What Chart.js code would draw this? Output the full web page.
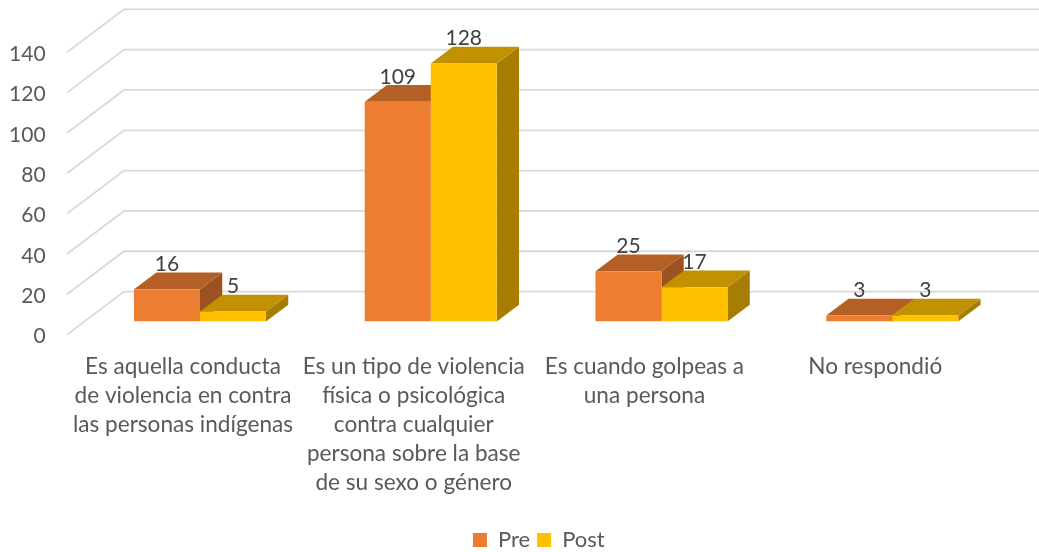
<!DOCTYPE html>
<html><head><meta charset="utf-8">
<style>html,body{margin:0;padding:0;background:#fff}canvas{display:block}</style>
<script src="https://cdn.jsdelivr.net/npm/chart.js@4/dist/chart.umd.min.js"></script>
</head><body><canvas id="c" width="1039" height="552"></canvas>
<script>
const categories = [
  ["Es aquella conducta","de violencia en contra","las personas indígenas"],
  ["Es un tipo de violencia","física o psicológica","contra cualquier","persona sobre la base","de su sexo o género"],
  ["Es cuando golpeas a","una persona"],
  ["No respondió"]
];
const pre = [16,109,25,3];
const post = [5,128,17,3];
const FONT = "Lato";
const shade = {
  "#ed7d31": {top:"#b45f25", side:"#9c5220"},
  "#ffc000": {top:"#c19100", side:"#a67d00"}
};
const WALL = {dx:57, dy:-43, frontDrop:13, frontX:67};
const BAR = {dx:22.3, dy:-16.8};
const LEGEND_SHIFT = {dx:35, dy:9};

function poly(ctx, pts, fill){
  ctx.fillStyle = fill; ctx.beginPath();
  pts.forEach((p,i)=> i?ctx.lineTo(p[0],p[1]):ctx.moveTo(p[0],p[1]));
  ctx.closePath(); ctx.fill();
}
const depth3d = {
  id:"depth3d",
  afterLayout(chart){
    const l = chart.legend;
    l.left += LEGEND_SHIFT.dx; l.right += LEGEND_SHIFT.dx;
    l.top += LEGEND_SHIFT.dy; l.bottom += LEGEND_SHIFT.dy;
  },
  beforeDatasetsDraw(chart){
    const ctx = chart.ctx, ys = chart.scales.y;
    ctx.save();
    ctx.strokeStyle = "#d9d9d9"; ctx.lineWidth = 1.8;
    ys.ticks.forEach(t=>{
      const y = ys.getPixelForValue(t.value) + WALL.frontDrop;
      ctx.beginPath();
      ctx.moveTo(WALL.frontX, y);
      ctx.lineTo(WALL.frontX + WALL.dx, y + WALL.dy);
      ctx.lineTo(chart.width, y + WALL.dy);
      ctx.stroke();
    });
    chart.data.datasets.forEach((ds,di)=>{
      const c = shade[ds.backgroundColor];
      chart.getDatasetMeta(di).data.forEach(b=>{
        const l=b.x-b.width/2, r=b.x+b.width/2, t=b.y, bt=b.base;
        poly(ctx,[[r,t],[r+BAR.dx,t+BAR.dy],[r+BAR.dx,bt+BAR.dy],[r,bt]],c.side);
        poly(ctx,[[l,t],[r,t],[r+BAR.dx,t+BAR.dy],[l+BAR.dx,t+BAR.dy]],c.top);
      });
    });
    ctx.restore();
  },
  afterDatasetsDraw(chart){
    const ctx = chart.ctx;
    ctx.save();
    ctx.font = "21px "+FONT; ctx.fillStyle="#404040";
    ctx.textAlign="center"; ctx.textBaseline="middle";
    chart.data.datasets.forEach((ds,di)=>{
      chart.getDatasetMeta(di).data.forEach((b,i)=>{
        ctx.fillText(String(ds.data[i]), b.x, b.y-25);
      });
    });
    ctx.restore();
  }
};
new Chart(document.getElementById("c"),{
  type:"bar",
  data:{labels:categories,datasets:[
    {label:"Pre",data:pre,backgroundColor:"#ed7d31",borderWidth:0},
    {label:"Post",data:post,backgroundColor:"#ffc000",borderWidth:0}
  ]},
  plugins:[depth3d],
  options:{
    responsive:false,animation:false,
    categoryPercentage:0.572,barPercentage:1,
    layout:{padding:{top:39.3,right:31.4,bottom:0,left:0}},
    plugins:{
      tooltip:{enabled:false},
      legend:{position:"bottom",labels:{boxWidth:14,boxHeight:14,padding:7,color:"#595959",font:{family:FONT,size:22}}}
    },
    scales:{
      x:{
        grid:{display:false},border:{display:false},
        afterFit(s){s.height=191.4;},
        ticks:{autoSkip:false,maxRotation:0,minRotation:0,labelOffset:-17,padding:23,color:"#595959",
          font:{family:FONT,size:22.6,lineHeight:1.283}}
      },
      y:{
        min:0,max:140,
        grid:{display:false},border:{display:false},
        afterFit(s){s.width=84.6;s.paddingTop=0;s.paddingBottom=0;},
        afterBuildTicks(s){s.ticks=[0,20,40,60,80,100,120,140].map(v=>({value:v}));},
        ticks:{labelOffset:15,padding:31,color:"#595959",font:{family:FONT,size:21}}
      }
    }
  }
});
</script></body></html>
